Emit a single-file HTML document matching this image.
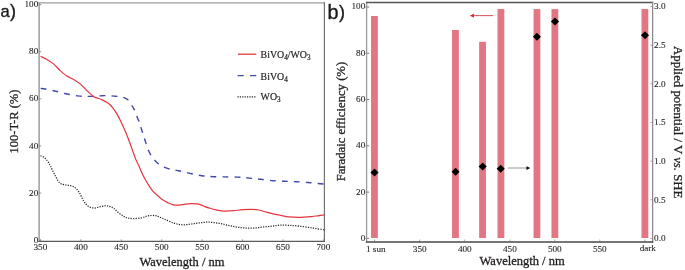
<!DOCTYPE html>
<html><head><meta charset="utf-8"><style>
html,body{margin:0;padding:0;background:#fff;width:685px;height:270px;overflow:hidden}
svg{display:block;will-change:transform}
.tk{font-family:"Liberation Serif",serif;font-size:9.2px;fill:#231f20;stroke:#231f20;stroke-width:0.1px}
.lg{font-family:"Liberation Serif",serif;font-size:9.9px;fill:#231f20;stroke:#231f20;stroke-width:0.2px}
.sb{font-size:7.2px}
.ti{font-family:"Liberation Serif",serif;font-size:12.5px;fill:#231f20;stroke:#231f20;stroke-width:0.3px}
.pl{font-family:"Liberation Sans",sans-serif;font-size:18px;fill:#1a1a1a;stroke:#1a1a1a;stroke-width:0.35px}
</style></head><body>
<svg width="685" height="270" viewBox="0 0 685 270">
<line x1="39.1" y1="2.1" x2="39.1" y2="242.05" stroke="#8c8c8c" stroke-width="1.3"/>
<line x1="38.45" y1="2.8" x2="325" y2="2.8" stroke="#9c9c9c" stroke-width="1.3"/>
<line x1="324.4" y1="2.15" x2="324.4" y2="242" stroke="#737373" stroke-width="1.2"/>
<line x1="38.45" y1="241.4" x2="325" y2="241.4" stroke="#5a5a5a" stroke-width="1.3"/>
<line x1="39.3" y1="240.20" x2="41.3" y2="240.20" stroke="#6e6e6e" stroke-width="0.8"/>
<text x="38.3" y="242.80" text-anchor="end" class="tk">0</text>
<line x1="39.3" y1="193.08" x2="41.3" y2="193.08" stroke="#6e6e6e" stroke-width="0.8"/>
<text x="38.3" y="195.68" text-anchor="end" class="tk">20</text>
<line x1="39.3" y1="145.96" x2="41.3" y2="145.96" stroke="#6e6e6e" stroke-width="0.8"/>
<text x="38.3" y="148.56" text-anchor="end" class="tk">40</text>
<line x1="39.3" y1="98.84" x2="41.3" y2="98.84" stroke="#6e6e6e" stroke-width="0.8"/>
<text x="38.3" y="101.44" text-anchor="end" class="tk">60</text>
<line x1="39.3" y1="51.72" x2="41.3" y2="51.72" stroke="#6e6e6e" stroke-width="0.8"/>
<text x="38.3" y="54.32" text-anchor="end" class="tk">80</text>
<line x1="39.3" y1="4.60" x2="41.3" y2="4.60" stroke="#6e6e6e" stroke-width="0.8"/>
<text x="38.3" y="7.20" text-anchor="end" class="tk">100</text>
<line x1="40.40" y1="241.2" x2="40.40" y2="239.2" stroke="#6e6e6e" stroke-width="0.6"/>
<text x="40.40" y="250.2" text-anchor="middle" class="tk">350</text>
<line x1="80.83" y1="241.2" x2="80.83" y2="239.2" stroke="#6e6e6e" stroke-width="0.6"/>
<text x="80.83" y="250.2" text-anchor="middle" class="tk">400</text>
<line x1="121.26" y1="241.2" x2="121.26" y2="239.2" stroke="#6e6e6e" stroke-width="0.6"/>
<text x="121.26" y="250.2" text-anchor="middle" class="tk">450</text>
<line x1="161.69" y1="241.2" x2="161.69" y2="239.2" stroke="#6e6e6e" stroke-width="0.6"/>
<text x="161.69" y="250.2" text-anchor="middle" class="tk">500</text>
<line x1="202.12" y1="241.2" x2="202.12" y2="239.2" stroke="#6e6e6e" stroke-width="0.6"/>
<text x="202.12" y="250.2" text-anchor="middle" class="tk">550</text>
<line x1="242.55" y1="241.2" x2="242.55" y2="239.2" stroke="#6e6e6e" stroke-width="0.6"/>
<text x="242.55" y="250.2" text-anchor="middle" class="tk">600</text>
<line x1="282.98" y1="241.2" x2="282.98" y2="239.2" stroke="#6e6e6e" stroke-width="0.6"/>
<text x="282.98" y="250.2" text-anchor="middle" class="tk">650</text>
<line x1="323.41" y1="241.2" x2="323.41" y2="239.2" stroke="#6e6e6e" stroke-width="0.6"/>
<text x="323.41" y="250.2" text-anchor="middle" class="tk">700</text>
<path d="M40.50,88.30 C41.25,88.42 43.20,88.68 45.00,89.00 C46.80,89.32 49.30,89.78 51.30,90.20 C53.30,90.62 54.77,90.95 57.00,91.50 C59.23,92.05 62.53,92.98 64.70,93.50 C66.87,94.02 67.78,94.20 70.00,94.60 C72.22,95.00 75.67,95.62 78.00,95.90 C80.33,96.18 82.00,96.22 84.00,96.30 C86.00,96.38 88.00,96.42 90.00,96.40 C92.00,96.38 94.00,96.32 96.00,96.20 C98.00,96.08 100.00,95.78 102.00,95.70 C104.00,95.62 106.00,95.63 108.00,95.70 C110.00,95.77 112.17,95.97 114.00,96.10 C115.83,96.23 117.50,96.30 119.00,96.50 C120.50,96.70 121.83,96.95 123.00,97.30 C124.17,97.65 125.12,98.12 126.00,98.60 C126.88,99.08 127.43,99.20 128.30,100.20 C129.17,101.20 130.32,103.25 131.20,104.60 C132.08,105.95 132.87,106.97 133.60,108.30 C134.33,109.63 134.95,110.98 135.60,112.60 C136.25,114.22 136.85,116.37 137.50,118.00 C138.15,119.63 138.92,120.82 139.50,122.40 C140.08,123.98 140.45,125.65 141.00,127.50 C141.55,129.35 142.22,131.62 142.80,133.50 C143.38,135.38 143.92,137.02 144.50,138.80 C145.08,140.58 145.67,142.33 146.30,144.20 C146.93,146.07 147.47,148.07 148.30,150.00 C149.13,151.93 150.23,154.10 151.30,155.80 C152.37,157.50 153.47,158.83 154.70,160.20 C155.93,161.57 157.12,162.85 158.70,164.00 C160.28,165.15 162.32,166.25 164.20,167.10 C166.08,167.95 168.20,168.60 170.00,169.10 C171.80,169.60 173.58,169.83 175.00,170.10 C176.42,170.37 177.00,170.38 178.50,170.70 C180.00,171.02 182.08,171.55 184.00,172.00 C185.92,172.45 188.00,172.95 190.00,173.40 C192.00,173.85 194.02,174.32 196.00,174.70 C197.98,175.08 200.07,175.43 201.90,175.70 C203.73,175.97 205.07,176.13 207.00,176.30 C208.93,176.47 210.47,176.60 213.50,176.70 C216.53,176.80 221.20,176.83 225.20,176.90 C229.20,176.97 234.53,177.00 237.50,177.10 C240.47,177.20 241.05,177.33 243.00,177.50 C244.95,177.67 247.20,177.90 249.20,178.10 C251.20,178.30 253.02,178.50 255.00,178.70 C256.98,178.90 258.13,178.97 261.10,179.30 C264.07,179.63 268.85,180.37 272.80,180.70 C276.75,181.03 280.85,181.13 284.80,181.30 C288.75,181.47 292.60,181.50 296.50,181.70 C300.40,181.90 305.28,182.27 308.20,182.50 C311.12,182.73 312.02,182.90 314.00,183.10 C315.98,183.30 318.43,183.53 320.10,183.70 C321.77,183.87 323.35,184.03 324.00,184.10" fill="none" stroke="#4049a8" stroke-width="1.4" stroke-dasharray="5.9,6.02" stroke-dashoffset="11.67"/>
<path d="M40.50,155.70 C41.00,155.92 42.55,156.40 43.50,157.00 C44.45,157.60 45.40,158.43 46.20,159.30 C47.00,160.17 47.57,161.03 48.30,162.20 C49.03,163.37 49.45,164.07 50.60,166.30 C51.75,168.53 53.60,172.77 55.20,175.60 C56.80,178.43 58.25,181.72 60.20,183.30 C62.15,184.88 64.67,184.53 66.90,185.10 C69.13,185.67 71.57,185.52 73.60,186.70 C75.63,187.88 77.42,189.82 79.10,192.20 C80.78,194.58 82.17,198.65 83.70,201.00 C85.23,203.35 86.53,205.13 88.30,206.30 C90.07,207.47 92.28,207.93 94.30,208.00 C96.32,208.07 98.47,207.08 100.40,206.70 C102.33,206.32 104.30,205.72 105.90,205.70 C107.50,205.68 108.70,206.17 110.00,206.60 C111.30,207.03 112.22,207.23 113.70,208.30 C115.18,209.37 117.17,211.63 118.90,213.00 C120.63,214.37 122.58,215.67 124.10,216.50 C125.62,217.33 126.48,217.65 128.00,218.00 C129.52,218.35 131.03,218.60 133.20,218.60 C135.37,218.60 138.75,218.40 141.00,218.00 C143.25,217.60 144.98,216.62 146.70,216.20 C148.42,215.78 149.77,215.58 151.30,215.50 C152.83,215.42 154.60,215.47 155.90,215.70 C157.20,215.93 157.62,216.30 159.10,216.90 C160.58,217.50 162.37,218.28 164.80,219.30 C167.23,220.32 170.73,222.08 173.70,223.00 C176.67,223.92 179.63,224.63 182.60,224.80 C185.57,224.97 188.53,224.35 191.50,224.00 C194.47,223.65 197.43,223.00 200.40,222.70 C203.37,222.40 206.22,222.10 209.30,222.20 C212.38,222.30 215.82,222.80 218.90,223.30 C221.98,223.80 224.83,224.57 227.80,225.20 C230.77,225.83 233.73,226.63 236.70,227.10 C239.67,227.57 242.63,227.85 245.60,228.00 C248.57,228.15 251.53,228.17 254.50,228.00 C257.47,227.83 260.43,227.32 263.40,227.00 C266.37,226.68 269.58,226.40 272.30,226.10 C275.02,225.80 277.00,225.33 279.70,225.20 C282.40,225.07 285.30,225.15 288.50,225.30 C291.70,225.45 295.00,225.67 298.90,226.10 C302.80,226.53 308.02,227.33 311.90,227.90 C315.78,228.47 320.18,229.18 322.20,229.50 C324.22,229.82 323.70,229.75 324.00,229.80" fill="none" stroke="#231f20" stroke-width="1.25" stroke-dasharray="1.2,1.3"/>
<path d="M40.50,56.30 C41.57,56.82 44.72,58.13 46.90,59.40 C49.08,60.67 51.38,62.03 53.60,63.90 C55.82,65.77 57.98,68.57 60.20,70.60 C62.42,72.63 64.67,74.63 66.90,76.10 C69.13,77.57 71.38,78.10 73.60,79.40 C75.82,80.70 77.98,82.03 80.20,83.90 C82.42,85.77 84.67,88.52 86.90,90.60 C89.13,92.68 91.75,95.12 93.60,96.40 C95.45,97.68 96.65,97.77 98.00,98.30 C99.35,98.83 99.98,98.77 101.70,99.60 C103.42,100.43 106.45,101.93 108.30,103.30 C110.15,104.67 111.32,105.95 112.80,107.80 C114.28,109.65 115.72,111.82 117.20,114.40 C118.68,116.98 120.22,120.15 121.70,123.30 C123.18,126.45 124.72,129.97 126.10,133.30 C127.48,136.63 128.42,139.03 130.00,143.30 C131.58,147.57 134.15,155.20 135.60,158.90 C137.05,162.60 137.68,163.25 138.70,165.50 C139.72,167.75 140.58,170.02 141.70,172.40 C142.82,174.78 144.03,177.33 145.40,179.80 C146.77,182.27 148.63,185.28 149.90,187.20 C151.17,189.12 151.90,190.07 153.00,191.30 C154.10,192.53 155.33,193.53 156.50,194.60 C157.67,195.67 158.77,196.70 160.00,197.70 C161.23,198.70 162.63,199.78 163.90,200.60 C165.17,201.42 166.15,201.93 167.60,202.60 C169.05,203.27 170.72,204.18 172.60,204.60 C174.48,205.02 176.80,205.17 178.90,205.10 C181.00,205.03 183.12,204.43 185.20,204.20 C187.28,203.97 189.60,203.75 191.40,203.70 C193.20,203.65 194.50,203.75 196.00,203.90 C197.50,204.05 198.90,204.15 200.40,204.60 C201.90,205.05 203.40,205.98 205.00,206.60 C206.60,207.22 208.33,207.80 210.00,208.30 C211.67,208.80 213.05,209.18 215.00,209.60 C216.95,210.02 219.87,210.55 221.70,210.80 C223.53,211.05 224.00,211.12 226.00,211.10 C228.00,211.08 230.93,210.93 233.70,210.70 C236.47,210.47 239.63,209.93 242.60,209.70 C245.57,209.47 248.78,209.25 251.50,209.30 C254.22,209.35 256.42,209.52 258.90,210.00 C261.38,210.48 263.67,211.48 266.40,212.20 C269.13,212.92 272.92,213.78 275.30,214.30 C277.68,214.82 278.42,214.87 280.70,215.30 C282.98,215.73 285.78,216.57 289.00,216.90 C292.22,217.23 296.28,217.35 300.00,217.30 C303.72,217.25 308.30,216.85 311.30,216.60 C314.30,216.35 316.13,216.03 318.00,215.80 C319.87,215.57 321.50,215.35 322.50,215.20 C323.50,215.05 323.75,214.95 324.00,214.90" fill="none" stroke="#e4363f" stroke-width="1.2"/>
<line x1="238" y1="54.2" x2="256.3" y2="54.2" stroke="#e4363f" stroke-width="1.3"/>
<line x1="237.6" y1="75.6" x2="256.3" y2="75.6" stroke="#4049a8" stroke-width="1.4" stroke-dasharray="6.1,6.4"/>
<line x1="237.4" y1="96.9" x2="256.3" y2="96.9" stroke="#231f20" stroke-width="1.25" stroke-dasharray="1.2,1.2"/>
<text x="260.6" y="57.8" class="lg">BiVO<tspan class="sb" dy="2">4</tspan><tspan dy="-2">/WO</tspan><tspan class="sb" dy="2">3</tspan></text>
<text x="260.6" y="79.6" class="lg">BiVO<tspan class="sb" dy="2">4</tspan></text>
<text x="260.6" y="100.1" class="lg">WO<tspan class="sb" dy="2">3</tspan></text>
<text x="182" y="265.5" text-anchor="middle" class="ti">Wavelength / nm</text>
<text transform="translate(17.6,121.5) rotate(-90)" text-anchor="middle" class="ti">100-T-R (%)</text>
<text x="0.6" y="17.4" class="pl" style="font-size:16.6px">a</text><text x="9.9" y="17.3" class="pl">)</text>
<rect x="371.05" y="16.0" width="6.8" height="222.00" fill="#e27682"/>
<rect x="452.05" y="30.0" width="6.8" height="208.00" fill="#e27682"/>
<rect x="479.15" y="41.8" width="6.8" height="196.20" fill="#e27682"/>
<rect x="497.50" y="9.0" width="6.8" height="229.00" fill="#e27682"/>
<rect x="533.55" y="9.1" width="6.8" height="228.90" fill="#e27682"/>
<rect x="551.45" y="9.1" width="6.8" height="228.90" fill="#e27682"/>
<rect x="641.50" y="9.0" width="6.8" height="229.00" fill="#e27682"/>
<line x1="365.40000000000003" y1="238.40" x2="369.1" y2="238.40" stroke="#666" stroke-width="0.9"/>
<text x="365.3" y="240.80" text-anchor="end" class="tk">0</text>
<line x1="365.40000000000003" y1="192.12" x2="369.1" y2="192.12" stroke="#666" stroke-width="0.9"/>
<text x="365.3" y="194.52" text-anchor="end" class="tk">20</text>
<line x1="365.40000000000003" y1="145.84" x2="369.1" y2="145.84" stroke="#666" stroke-width="0.9"/>
<text x="365.3" y="148.24" text-anchor="end" class="tk">40</text>
<line x1="365.40000000000003" y1="99.56" x2="369.1" y2="99.56" stroke="#666" stroke-width="0.9"/>
<text x="365.3" y="101.96" text-anchor="end" class="tk">60</text>
<line x1="365.40000000000003" y1="53.28" x2="369.1" y2="53.28" stroke="#666" stroke-width="0.9"/>
<text x="365.3" y="55.68" text-anchor="end" class="tk">80</text>
<line x1="365.40000000000003" y1="7.00" x2="369.1" y2="7.00" stroke="#666" stroke-width="0.9"/>
<text x="365.3" y="9.40" text-anchor="end" class="tk">100</text>
<line x1="650.4" y1="238.40" x2="652.6" y2="238.40" stroke="#999" stroke-width="0.8"/>
<text x="654.1" y="241.30" class="tk">0.0</text>
<line x1="650.4" y1="199.75" x2="652.6" y2="199.75" stroke="#999" stroke-width="0.8"/>
<text x="654.1" y="202.65" class="tk">0.5</text>
<line x1="650.4" y1="161.10" x2="652.6" y2="161.10" stroke="#999" stroke-width="0.8"/>
<text x="654.1" y="164.00" class="tk">1.0</text>
<line x1="650.4" y1="122.45" x2="652.6" y2="122.45" stroke="#999" stroke-width="0.8"/>
<text x="654.1" y="125.35" class="tk">1.5</text>
<line x1="650.4" y1="83.80" x2="652.6" y2="83.80" stroke="#999" stroke-width="0.8"/>
<text x="654.1" y="86.70" class="tk">2.0</text>
<line x1="650.4" y1="45.15" x2="652.6" y2="45.15" stroke="#999" stroke-width="0.8"/>
<text x="654.1" y="48.05" class="tk">2.5</text>
<line x1="650.4" y1="6.50" x2="652.6" y2="6.50" stroke="#999" stroke-width="0.8"/>
<text x="654.1" y="9.40" class="tk">3.0</text>
<line x1="374.50" y1="241.5" x2="374.50" y2="239.5" stroke="#6e6e6e" stroke-width="0.6"/>
<text x="375.80" y="251.8" text-anchor="middle" class="tk">1 sun</text>
<line x1="419.70" y1="241.5" x2="419.70" y2="239.5" stroke="#6e6e6e" stroke-width="0.6"/>
<text x="419.70" y="251.8" text-anchor="middle" class="tk">350</text>
<line x1="464.80" y1="241.5" x2="464.80" y2="239.5" stroke="#6e6e6e" stroke-width="0.6"/>
<text x="464.80" y="251.8" text-anchor="middle" class="tk">400</text>
<line x1="509.90" y1="241.5" x2="509.90" y2="239.5" stroke="#6e6e6e" stroke-width="0.6"/>
<text x="509.90" y="251.8" text-anchor="middle" class="tk">450</text>
<line x1="554.80" y1="241.5" x2="554.80" y2="239.5" stroke="#6e6e6e" stroke-width="0.6"/>
<text x="554.80" y="251.8" text-anchor="middle" class="tk">500</text>
<line x1="599.80" y1="241.5" x2="599.80" y2="239.5" stroke="#6e6e6e" stroke-width="0.6"/>
<text x="599.80" y="251.8" text-anchor="middle" class="tk">550</text>
<line x1="644.90" y1="241.5" x2="644.90" y2="239.5" stroke="#6e6e6e" stroke-width="0.6"/>
<text x="647.80" y="250.9" text-anchor="middle" class="tk">dark</text>
<line x1="366.6" y1="1.85" x2="366.6" y2="242.95" stroke="#9a9a9a" stroke-width="1.3"/>
<line x1="365.95" y1="2.5" x2="653.25" y2="2.5" stroke="#555555" stroke-width="1.3"/>
<line x1="652.6" y1="1.85" x2="652.6" y2="242.95" stroke="#8a8a8a" stroke-width="1.3"/>
<line x1="365.95" y1="242.0" x2="653.25" y2="242.0" stroke="#474747" stroke-width="1.3"/>
<path d="M374.50,168.50 L378.55,172.50 L374.50,176.50 L370.45,172.50 Z" fill="#000"/>
<path d="M455.60,167.80 L459.65,171.80 L455.60,175.80 L451.55,171.80 Z" fill="#000"/>
<path d="M482.70,162.50 L486.75,166.50 L482.70,170.50 L478.65,166.50 Z" fill="#000"/>
<path d="M500.70,164.80 L504.75,168.80 L500.70,172.80 L496.65,168.80 Z" fill="#000"/>
<path d="M536.90,32.80 L540.95,36.80 L536.90,40.80 L532.85,36.80 Z" fill="#000"/>
<path d="M555.00,17.40 L559.05,21.40 L555.00,25.40 L550.95,21.40 Z" fill="#000"/>
<path d="M645.00,31.30 L649.05,35.30 L645.00,39.30 L640.95,35.30 Z" fill="#000"/>
<line x1="473.5" y1="15.6" x2="493.1" y2="15.6" stroke="#de5560" stroke-width="1.05"/>
<path d="M469.9,15.7 L474.3,13.6 L473.6,15.7 L474.3,17.8 Z" fill="#cc1f26"/>
<line x1="507.8" y1="168.0" x2="527" y2="168.0" stroke="#a0a0a0" stroke-width="1.1"/>
<path d="M530.2,168.1 L526.5,166.3 L526.5,169.9 Z" fill="#000"/>
<text x="522.1" y="265.3" text-anchor="middle" class="ti">Wavelength / nm</text>
<text transform="translate(344.6,121.6) rotate(-90)" text-anchor="middle" class="ti" style="font-size:12.7px">Faradaic efficiency (%)</text>
<text transform="translate(674.2,122.2) rotate(90)" text-anchor="middle" class="ti" style="font-size:12.8px">Applied potential / V <tspan font-style="italic">vs.</tspan> SHE</text>
<text x="327.4" y="19.3" class="pl" style="font-size:19.8px">b</text><text x="338.9" y="18.2" class="pl">)</text>
</svg>
</body></html>
